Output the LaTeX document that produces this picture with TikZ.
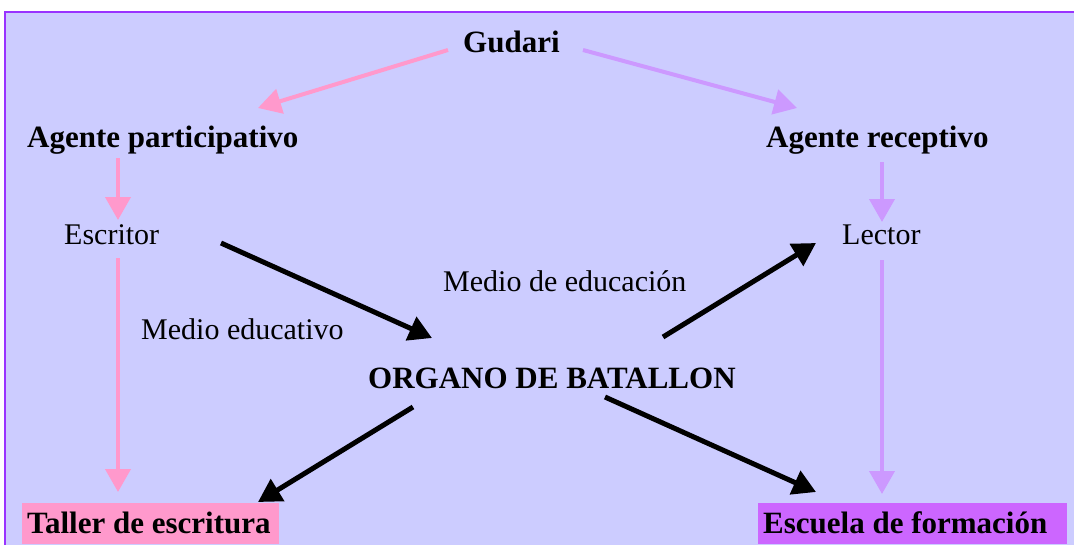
\documentclass[tikz,border=0pt]{standalone}
\usepackage{fontspec}
\setmainfont{Liberation Serif}
\usetikzlibrary{arrows.meta}
\definecolor{bgc}{HTML}{CCCCFF}
\definecolor{framec}{HTML}{9933FF}
\definecolor{pinkc}{HTML}{FF99CC}
\definecolor{lilacc}{HTML}{CC99FF}
\definecolor{violetc}{HTML}{CC66FF}
\tikzset{
  lbl/.style={anchor=base west, inner sep=0pt, font=\fontsize{30}{34}\selectfont},
  blbl/.style={anchor=base west, inner sep=0pt, font=\fontsize{31}{35}\selectfont\bfseries},
  boxlbl/.style={anchor=base west, inner xsep=5pt, inner ysep=0pt, text height=30pt, text depth=11pt, font=\fontsize{31}{35}\selectfont\bfseries},
  pinkarrow/.style={draw=pinkc, line width=4pt, -{Triangle[length=23pt,width=25pt]}},
  lilacarrow/.style={draw=lilacc, line width=4pt, -{Triangle[length=23pt,width=25pt]}},
  blackarrow/.style={draw=black, line width=5pt, -{Triangle[length=23pt,width=25pt]}},
}
\begin{document}
\begin{tikzpicture}[x=1pt,y=-1pt]
\useasboundingbox (0,0) rectangle (1074,544);
\clip (0,0) rectangle (1074,544);
\fill[white] (0,0) rectangle (1074,544);
\draw[framec, line width=2pt, fill=bgc] (5,12) rectangle (1090,560);

\node[blbl] (gud) at (463,52) {Gudari};
\node[blbl] (ap) at (27,147) {Agente participativo};
\node[blbl] (ar) at (766,147) {Agente receptivo};
\node[lbl] (esc) at (64,244) {Escritor};
\node[lbl] (lec) at (842,244) {Lector};
\node[lbl] (mde) at (443,291) {Medio de educación};
\node[lbl] (med) at (141,339) {Medio educativo};
\node[blbl] (org) at (368,388) {ORGANO DE BATALLON};
\node[boxlbl, fill=pinkc] (tal) at (22,533) {\makebox[247pt][l]{Taller de escritura}};
\node[boxlbl, fill=violetc] (escu) at (758,533) {\makebox[299pt][l]{Escuela de formación}};

\draw[pinkarrow] ([shift={(-15,-2)}]gud.base west) -- ([shift={(231,-39)}]ap.base west);
\draw[lilacarrow] ([shift={(120,-2)}]gud.base west) -- ([shift={(31,-39)}]ar.base west);
\draw[pinkarrow] ([shift={(91,11)}]ap.base west) -- ([shift={(54,-24)}]esc.base west);
\draw[pinkarrow] ([shift={(54,14)}]esc.base west) -- ([shift={(96,-41)}]tal.base west);
\draw[lilacarrow] ([shift={(116,15)}]ar.base west) -- ([shift={(40,-22)}]lec.base west);
\draw[lilacarrow] ([shift={(40,16)}]lec.base west) -- ([shift={(124,-39)}]escu.base west);
\draw[blackarrow] ([shift={(157,-1)}]esc.base west) -- ([shift={(64,-50)}]org.base west);
\draw[blackarrow] ([shift={(295,-51)}]org.base west) -- ([shift={(-26,-1)}]lec.base west);
\draw[blackarrow] ([shift={(45,19)}]org.base west) -- ([shift={(236,-31)}]tal.base west);
\draw[blackarrow] ([shift={(237,9)}]org.base west) -- ([shift={(58,-41)}]escu.base west);
\end{tikzpicture}
\end{document}
